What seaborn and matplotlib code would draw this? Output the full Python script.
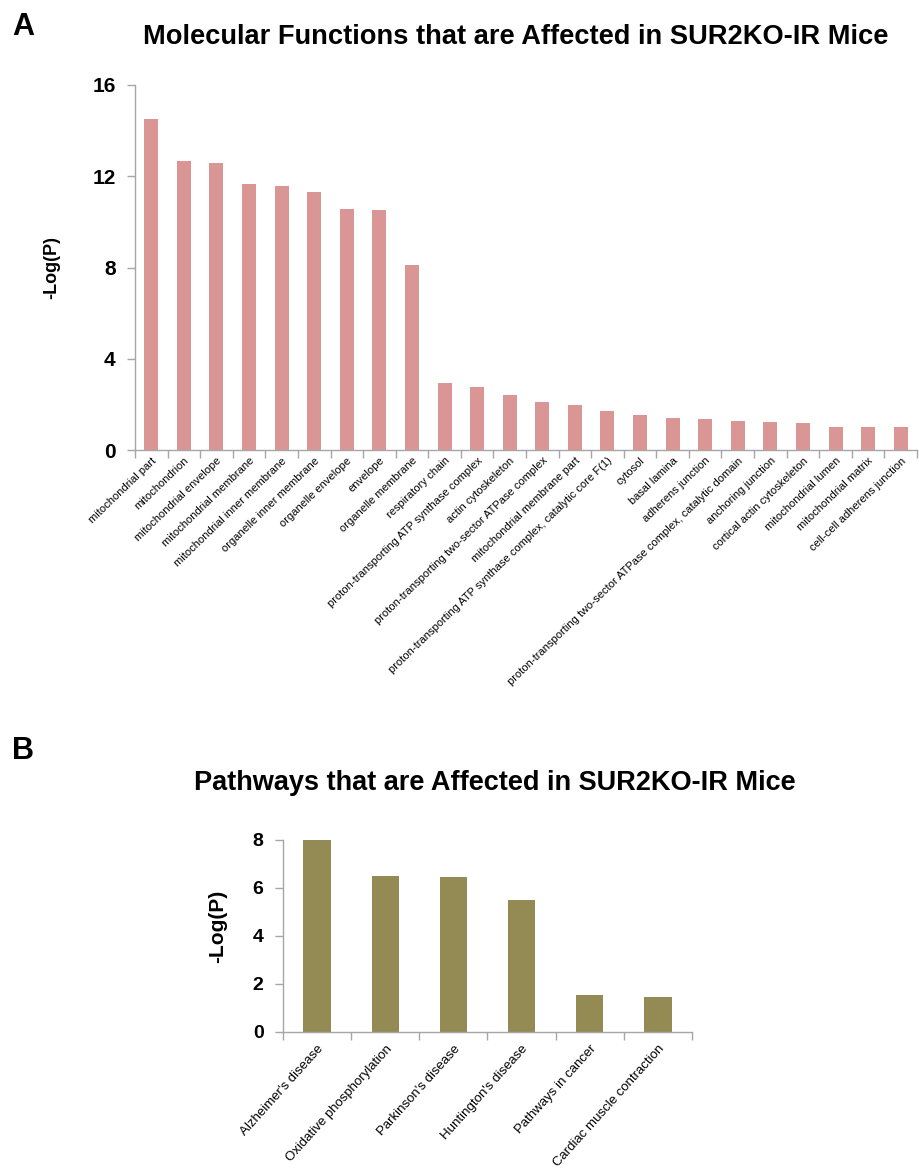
import matplotlib
matplotlib.use("Agg")
import matplotlib.pyplot as plt
import seaborn as sns
import pandas as pd
import numpy as np

# ---------------- data ----------------
mf_categories = [
    "mitochondrial part", "mitochondrion", "mitochondrial envelope",
    "mitochondrial membrane", "mitochondrial inner membrane",
    "organelle inner membrane", "organelle envelope", "envelope",
    "organelle membrane", "respiratory chain",
    "proton-transporting ATP synthase complex", "actin cytoskeleton",
    "proton-transporting two-sector ATPase complex",
    "mitochondrial membrane part",
    "proton-transporting ATP synthase complex, catalytic core F(1)",
    "cytosol", "basal lamina", "adherens junction",
    "proton-transporting two-sector ATPase complex, catalytic domain",
    "anchoring junction", "cortical actin cytoskeleton",
    "mitochondrial lumen", "mitochondrial matrix", "cell-cell adherens junction",
]
mf_values = [14.5, 12.69, 12.6, 11.65, 11.58, 11.29, 10.58, 10.54, 8.13,
             2.95, 2.78, 2.43, 2.1, 1.99, 1.73, 1.55, 1.39, 1.35, 1.29,
             1.24, 1.17, 1.02, 1.02, 1.01]
mf_yticks = [0, 4, 8, 12, 16]

pw_categories = ["Alzheimer's disease", "Oxidative phosphorylation",
                 "Parkinson's disease", "Huntington's disease",
                 "Pathways in cancer", "Cardiac muscle contraction"]
pw_values = [8.02, 6.5, 6.44, 5.5, 1.53, 1.47]
pw_yticks = [0, 2, 4, 6, 8]

title_a = "Molecular Functions that are Affected in SUR2KO-IR Mice"
title_b = "Pathways that are Affected in SUR2KO-IR Mice"
ylab = "-Log(P)"

# ---------------- style ----------------
sns.set_style("white")
plt.rcParams["font.family"] = ["Liberation Sans", "DejaVu Sans"]
plt.rcParams["text.color"] = "black"
plt.rcParams["axes.labelcolor"] = "black"
plt.rcParams["xtick.color"] = "black"
plt.rcParams["ytick.color"] = "black"

W, H = 919, 1176
fig = plt.figure(figsize=(W / 100, H / 100), dpi=100)

spine_col = "#a6a6a6"

def style_axes(ax, ncat, yticks, ylim, tick_fs, lab_fs, rot, xpad,
               ylab_x, ylab_y, ylab_fs):
    ax.set_xlim(-0.5, ncat - 0.5)
    ax.set_ylim(*ylim)
    for s in ["top", "right"]:
        ax.spines[s].set_visible(False)
    for s in ["left", "bottom"]:
        ax.spines[s].set_color(spine_col)
        ax.spines[s].set_linewidth(1.0)
    ax.set_yticks(yticks)
    ax.set_yticklabels([str(t) for t in yticks], fontsize=tick_fs,
                       fontweight="bold", color="black")
    ax.tick_params(axis="y", which="major", direction="out", length=6, width=1,
                   color=spine_col, pad=8, left=True)
    # category boundary ticks on x
    ax.set_xticks(np.arange(-0.5, ncat, 1.0), minor=True)
    ax.tick_params(axis="x", which="minor", direction="out", length=6, width=1,
                   color=spine_col, bottom=True)
    ax.tick_params(axis="x", which="major", length=0, pad=xpad)
    for lab in ax.get_xticklabels():
        lab.set_rotation(rot)
        lab.set_ha("right")
        lab.set_rotation_mode("anchor")
        lab.set_fontsize(lab_fs)
        lab.set_color("black")
    ax.set_xlabel("")
    ax.set_ylabel(ylab, fontsize=ylab_fs, fontweight="bold", color="black")
    ax.yaxis.set_label_coords(ylab_x, ylab_y)

# ---------------- panel A ----------------
axA = fig.add_axes([135 / W, 1 - 450 / H, (917 - 135) / W, (450 - 85) / H])
dfA = pd.DataFrame({"cat": mf_categories, "val": mf_values})
sns.barplot(data=dfA, x="cat", y="val", ax=axA, color="#D99694",
            saturation=1, width=0.43, edgecolor="none")
style_axes(axA, len(mf_categories), mf_yticks, (0, 16), 15, 8.0, 44, 4,
           -0.095, 0.5, 13)

# ---------------- panel B ----------------
axB = fig.add_axes([283 / W, 1 - 1032 / H, (692 - 283) / W, (1032 - 840) / H])
dfB = pd.DataFrame({"cat": pw_categories, "val": pw_values})
sns.barplot(data=dfB, x="cat", y="val", ax=axB, color="#948A54",
            saturation=1, width=0.4, edgecolor="none")
style_axes(axB, len(pw_categories), pw_yticks, (0, 8), 14, 9.5, 48, 8,
           -0.137, 0.55, 15)

# ---------------- titles / panel letters ----------------
fig.text(516 / W, 1 - 37 / H, title_a, ha="center", va="center",
         fontsize=19.6, fontweight="bold")
fig.text(495 / W, 1 - 783 / H, title_b, ha="center", va="center",
         fontsize=19.5, fontweight="bold")
fig.text(12 / W, 1 - 27 / H, "A", ha="left", va="center",
         fontsize=22, fontweight="bold")
fig.text(12 / W, 1 - 751 / H, "B", ha="left", va="center",
         fontsize=22, fontweight="bold")

fig.savefig("out.png", dpi=100)
